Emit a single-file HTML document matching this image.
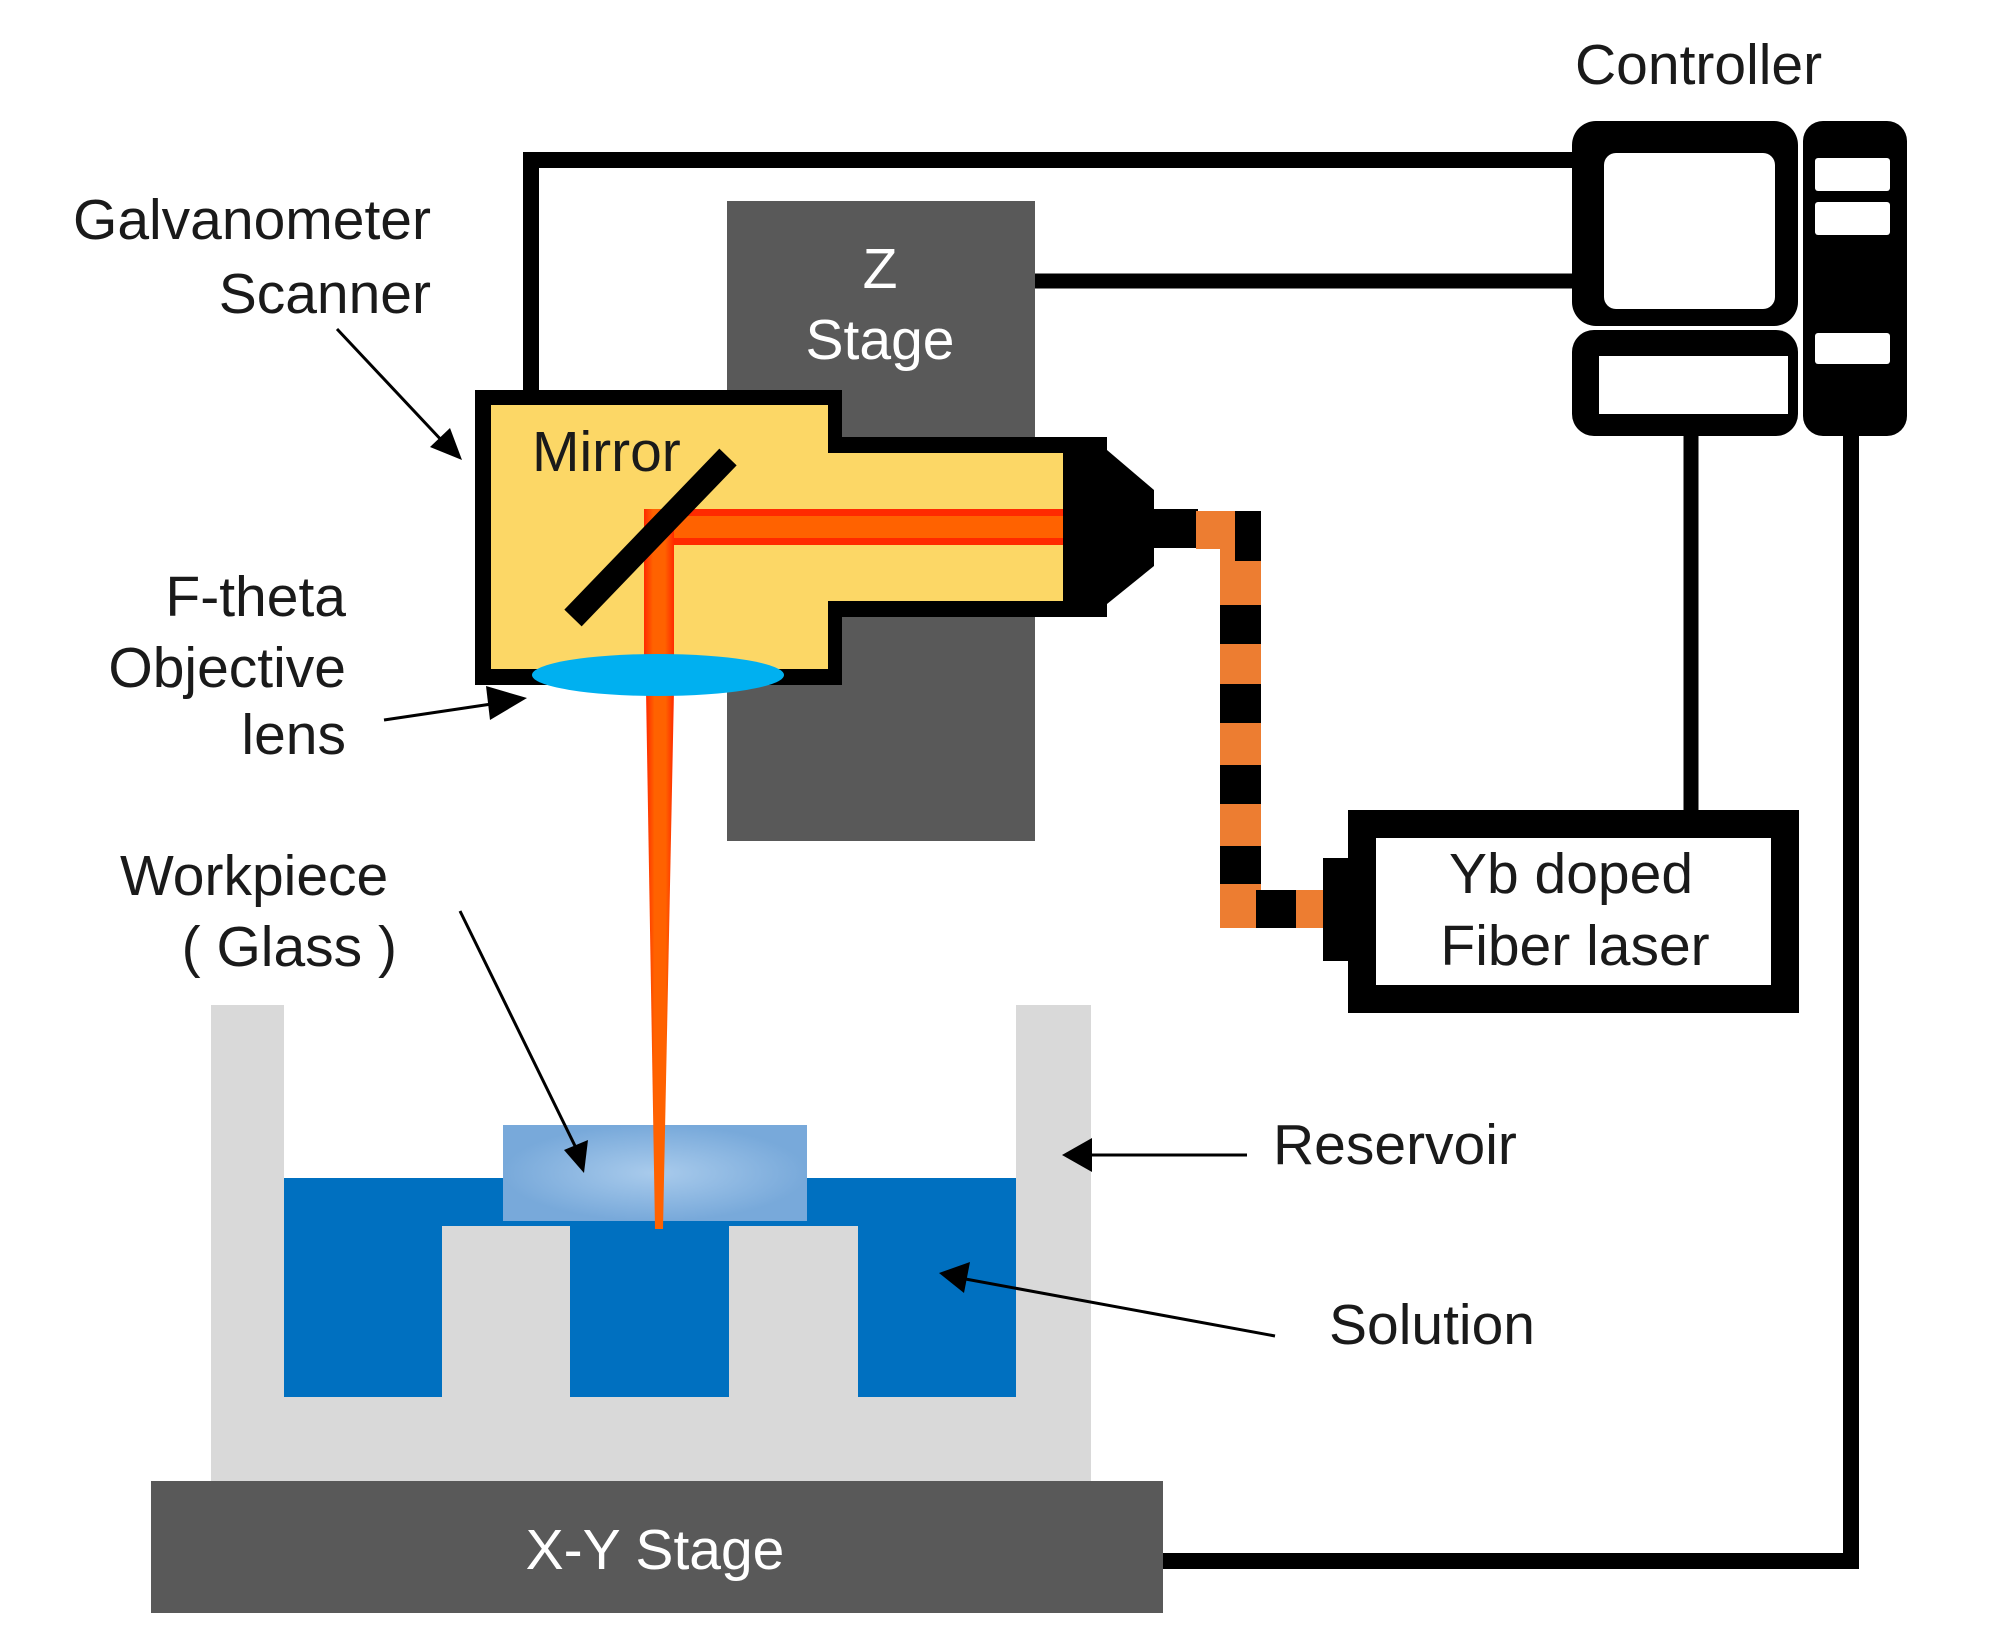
<!DOCTYPE html>
<html><head><meta charset="utf-8"><style>
html,body{margin:0;padding:0;background:#fff;}
svg{display:block;}
text{font-family:"Liberation Sans",Arial,sans-serif;font-size:57px;fill:#1a1a1a;}
</style></head><body>
<svg width="2008" height="1644" viewBox="0 0 2008 1644" xmlns="http://www.w3.org/2000/svg">
<defs>
<radialGradient id="gl" cx="0.5" cy="0.5" r="0.5">
<stop offset="0" stop-color="#a9cbec"/><stop offset="1" stop-color="#78a9da"/>
</radialGradient>
<linearGradient id="bm" x1="0" x2="1"><stop offset="0" stop-color="#ff2a00"/><stop offset="0.3" stop-color="#ff6200"/><stop offset="0.7" stop-color="#ff6200"/><stop offset="1" stop-color="#ff2a00"/></linearGradient>
</defs>

<polyline points="531,392 531,160 1580,160" fill="none" stroke="#000" stroke-width="16"/>
<line x1="1030" y1="281" x2="1580" y2="281" stroke="#000" stroke-width="15"/>
<line x1="1691" y1="430" x2="1691" y2="815" stroke="#000" stroke-width="15"/>
<polyline points="1851,430 1851,1561 1160,1561" fill="none" stroke="#000" stroke-width="16"/>

<rect x="727" y="201" width="308" height="640" fill="#595959"/>
<text x="880" y="288" text-anchor="middle" style="fill:#fff">Z</text>
<text x="880" y="359" text-anchor="middle" style="fill:#fff">Stage</text>

<polygon points="475,390 842,390 842,437 1107,437 1107,617 842,617 842,685 475,685" fill="#000"/>
<polygon points="491,405 828,405 828,453 1063,453 1063,601 828,601 828,669 491,669" fill="#fcd766"/>
<polygon points="1107,450 1154,490 1154,566 1107,604" fill="#000"/>
<rect x="1150" y="509" width="48" height="39" fill="#000"/>
<rect x="644" y="509" width="419" height="36" fill="#ff2a00"/>
<rect x="651" y="516" width="412" height="22" fill="#ff6200"/>
<rect x="644" y="509" width="30" height="165" fill="url(#bm)"/>
<line x1="728" y1="457" x2="573" y2="618" stroke="#000" stroke-width="24"/>
<text x="532" y="471">Mirror</text>

<rect x="1196" y="511" width="39" height="38" fill="#ed7d31"/>
<rect x="1220" y="511" width="41" height="417" fill="#ed7d31"/>
<rect x="1220" y="890" width="103" height="38" fill="#ed7d31"/>
<g fill="#000">
<rect x="1235" y="511" width="26" height="50"/>
<rect x="1220" y="605" width="41" height="39"/>
<rect x="1220" y="684" width="41" height="39"/>
<rect x="1220" y="765" width="41" height="39"/>
<rect x="1220" y="846" width="41" height="38"/>
<rect x="1256" y="890" width="40" height="38"/>
</g>

<rect x="1323" y="858" width="27" height="103" fill="#000"/>
<rect x="1362" y="824" width="423" height="175" fill="#fff" stroke="#000" stroke-width="28"/>
<text x="1571" y="893" text-anchor="middle">Yb doped</text>
<text x="1575" y="965" text-anchor="middle">Fiber laser</text>

<text x="1575" y="84">Controller</text>
<rect x="1572" y="121" width="226" height="205" rx="24" fill="#000"/>
<rect x="1604" y="153" width="171" height="156" rx="12" fill="#fff"/>
<rect x="1572" y="330" width="226" height="106" rx="22" fill="#000"/>
<rect x="1599" y="356" width="189" height="58" fill="#fff"/>
<rect x="1803" y="121" width="104" height="315" rx="20" fill="#000"/>
<rect x="1815" y="158" width="75" height="33" rx="3" fill="#fff"/>
<rect x="1815" y="202" width="75" height="33" rx="3" fill="#fff"/>
<rect x="1815" y="333" width="75" height="31" rx="3" fill="#fff"/>

<rect x="211" y="1005" width="880" height="476" fill="#d9d9d9"/>
<rect x="284" y="1005" width="732" height="173" fill="#fff"/>
<rect x="284" y="1178" width="732" height="219" fill="#0070c0"/>
<rect x="442" y="1226" width="128" height="171" fill="#d9d9d9"/>
<rect x="729" y="1226" width="129" height="171" fill="#d9d9d9"/>
<rect x="503" y="1125" width="304" height="96" fill="url(#gl)"/>

<polygon points="646,690 674,690 663,1229 655,1229" fill="url(#bm)"/>
<ellipse cx="658" cy="675" rx="126" ry="21" fill="#00b0f0"/>

<rect x="151" y="1481" width="1012" height="132" fill="#595959"/>
<text x="655" y="1569" text-anchor="middle" style="fill:#fff">X-Y Stage</text>

<text x="431" y="239" text-anchor="end">Galvanometer</text>
<text x="431" y="313" text-anchor="end">Scanner</text>
<text x="346" y="616" text-anchor="end">F-theta</text>
<text x="346" y="687" text-anchor="end">Objective</text>
<text x="346" y="754" text-anchor="end">lens</text>
<text x="120" y="895">Workpiece</text>
<text x="397" y="966" text-anchor="end">( Glass )</text>
<text x="1273" y="1164">Reservoir</text>
<text x="1329" y="1344">Solution</text>

<g stroke="#000" stroke-width="3" fill="none">
<line x1="337" y1="329" x2="445" y2="444"/>
<line x1="384" y1="720" x2="505" y2="702"/>
<line x1="460" y1="911" x2="577" y2="1150"/>
<line x1="1247" y1="1155" x2="1085" y2="1155"/>
<line x1="1275" y1="1336" x2="960" y2="1278"/>
</g>
<g fill="#000">
<polygon points="462,460 430,447 450,428"/>
<polygon points="527,698 486,686 490,720"/>
<polygon points="584,1173 564,1150 588,1140"/>
<polygon points="1062,1155 1092,1138 1092,1172"/>
<polygon points="939,1273 970,1262 964,1293"/>
</g>
</svg>
</body></html>
